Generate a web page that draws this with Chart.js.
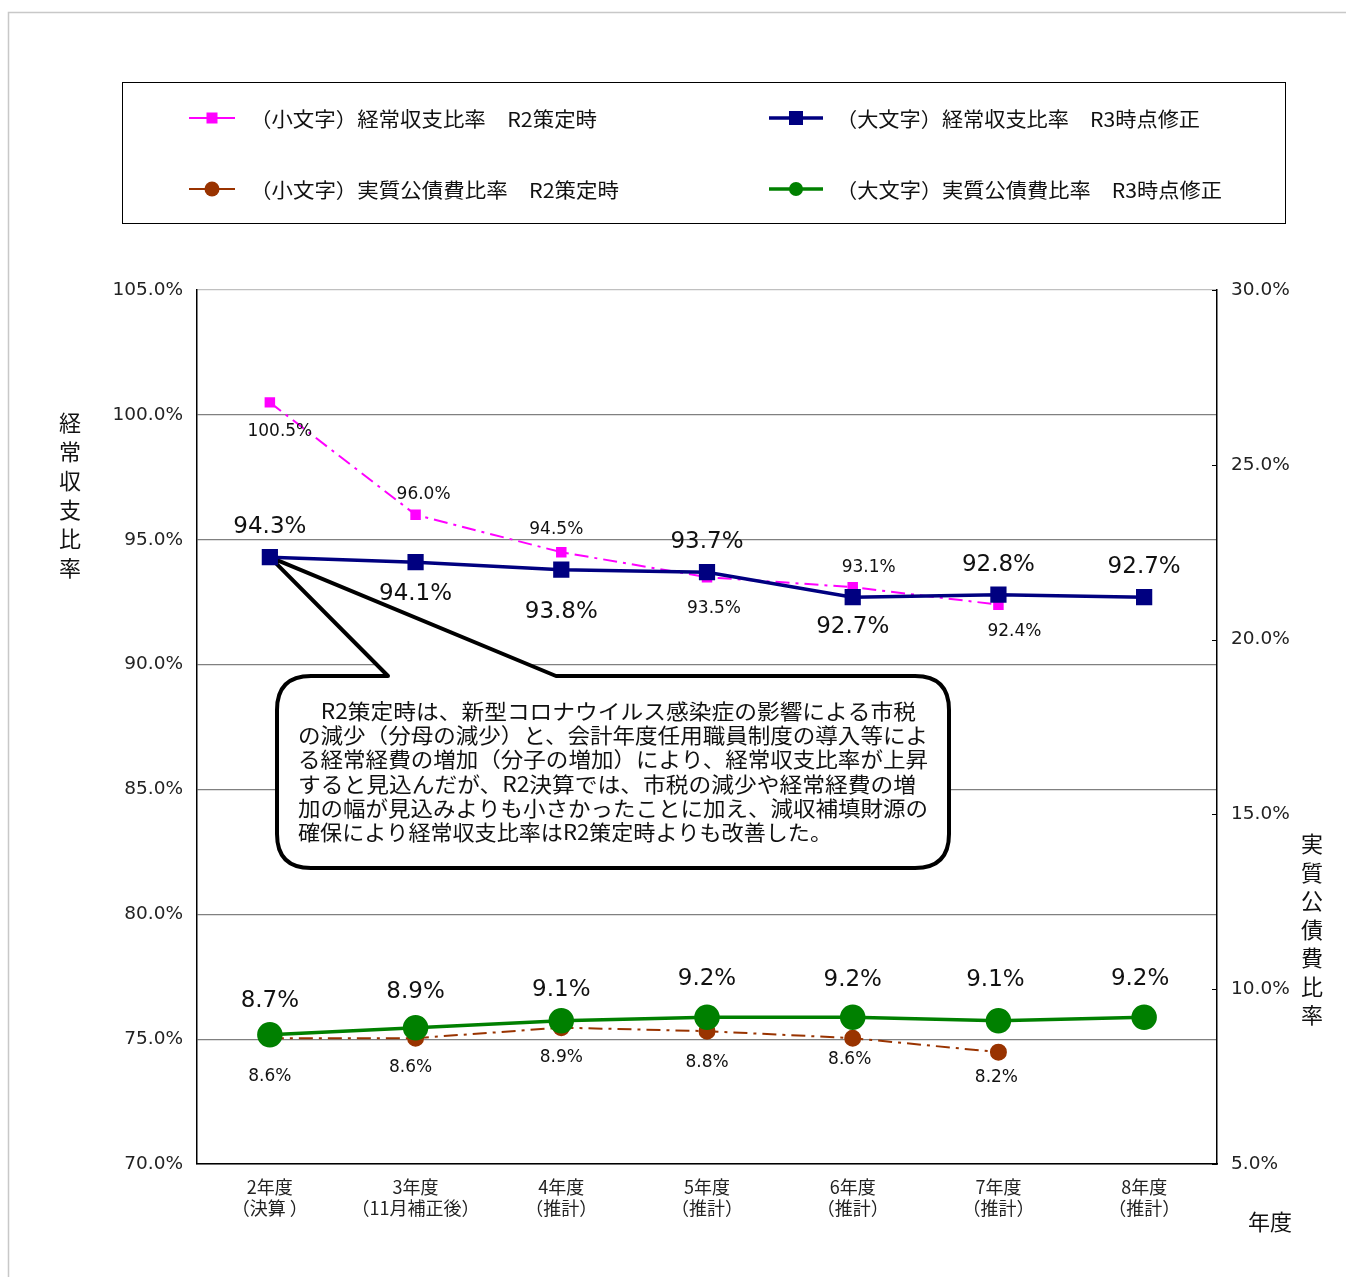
<!DOCTYPE html>
<html lang="ja">
<head>
<meta charset="utf-8">
<title>経常収支比率・実質公債費比率の推移</title>
<script src="https://cdn.jsdelivr.net/npm/chart.js@4/dist/chart.umd.min.js"></script>
<style>
  html, body { margin: 0; padding: 0; background: #fff; }
  canvas { display: block; }
</style>
</head>
<body>
<canvas id="c" width="1346" height="1277"></canvas>
<script>
// 年度区分
const categories = [
  ['2年度', '（決算 ）'],
  ['3年度', '（11月補正後）'],
  ['4年度', '（推計）'],
  ['5年度', '（推計）'],
  ['6年度', '（推計）'],
  ['7年度', '（推計）'],
  ['8年度', '（推計）']
];

// 経常収支比率（%）
const keijoR2 = [100.5, 96.0, 94.5, 93.5, 93.1, 92.4, null];
const keijoR3 = [94.3, 94.1, 93.8, 93.7, 92.7, 92.8, 92.7];

// 実質公債費比率（%）
const kosaiR2 = [8.6, 8.6, 8.9, 8.8, 8.6, 8.2, null];
const kosaiR3 = [8.7, 8.9, 9.1, 9.2, 9.2, 9.1, 9.2];

// 系列名
const seriesNames = [
  '（小文字）経常収支比率　R2策定時',
  '（大文字）経常収支比率　R3時点修正',
  '（小文字）実質公債費比率　R2策定時',
  '（大文字）実質公債費比率　R3時点修正'
];

// 軸ラベル
const leftTicks = [70, 75, 80, 85, 90, 95, 100, 105];
const rightTicks = [5, 10, 15, 20, 25, 30];
const leftTitle = '経常収支比率';
const rightTitle = '実質公債費比率';
const xTitle = '年度';

// 吹き出しの文章
const noteLines = [
  '　R2策定時は、新型コロナウイルス感染症の影響による市税',
  'の減少（分母の減少）と、会計年度任用職員制度の導入等によ',
  'る経常経費の増加（分子の増加）により、経常収支比率が上昇',
  'すると見込んだが、R2決算では、市税の減少や経常経費の増',
  '加の幅が見込みよりも小さかったことに加え、減収補填財源の',
  '確保により経常収支比率はR2策定時よりも改善した。'
];

const FONT = '"Noto Sans CJK JP", "Noto Sans", sans-serif';
const NUMFONT = '"DejaVu Sans", "Noto Sans CJK JP", sans-serif';

// 値ラベルの配置（点からのずれ, px）
const labelOffsets = {
  keijoR2: [[10, 29], [8, -20], [-5, -23], [7, 31], [16, -20], [16, 27]],
  keijoR3: [[0, -30], [0, 32], [0, 42], [0, -30], [0, 30], [0, -30], [0, -30]],
  kosaiR2: [[0, 38], [-5, 29], [0, 30], [0, 31], [-3, 21], [-2, 25]],
  kosaiR3: [[0, -34], [0, -36], [0, -31], [0, -38], [0, -37], [-3, -41], [-4, -38]]
};

const fmt = v => v.toFixed(1) + '%';

// 指定幅に合わせて横方向に伸縮して描く
function fitText(ctx, text, x, y, width) {
  const w = ctx.measureText(text).width;
  ctx.save();
  ctx.translate(x, y);
  ctx.scale(width / w, 1);
  ctx.fillText(text, 0, 0);
  ctx.restore();
}

// 外枠・凡例・吹き出し・値ラベルの描画
const decorations = {
  id: 'decorations',
  beforeDraw(chart) {
    const ctx = chart.ctx;
    ctx.save();
    ctx.fillStyle = '#fff';
    ctx.fillRect(0, 0, chart.width, chart.height);
    // 外枠
    ctx.strokeStyle = '#c8c8c8';
    ctx.lineWidth = 1.5;
    ctx.beginPath();
    ctx.moveTo(8.5, chart.height);
    ctx.lineTo(8.5, 12.5);
    ctx.lineTo(chart.width, 12.5);
    ctx.stroke();

    // 凡例枠
    ctx.strokeStyle = '#000';
    ctx.lineWidth = 1;
    ctx.strokeRect(122.5, 82.5, 1163, 141);

    const entries = [
      { x: 189, w: 46, y: 118, ds: 0, tx: 250, tw: 347 },
      { x: 769, w: 54, y: 118, ds: 1, tx: 836, tw: 364 },
      { x: 189, w: 46, y: 189, ds: 2, tx: 250, tw: 369 },
      { x: 769, w: 54, y: 189, ds: 3, tx: 836, tw: 386 }
    ];
    entries.forEach(e => {
      const d = chart.data.datasets[e.ds];
      ctx.strokeStyle = d.borderColor;
      ctx.lineWidth = d.borderWidth;
      ctx.beginPath();
      ctx.moveTo(e.x, e.y);
      ctx.lineTo(e.x + e.w, e.y);
      ctx.stroke();
      const cx = e.x + e.w / 2;
      const r = d.legendMarker;
      ctx.fillStyle = d.borderColor;
      if (d.pointStyle === 'rect') {
        ctx.fillRect(cx - r, e.y - r, r * 2, r * 2);
      } else {
        ctx.beginPath();
        ctx.arc(cx, e.y, r, 0, Math.PI * 2);
        ctx.fill();
      }
      ctx.fillStyle = '#111';
      ctx.font = '20px ' + FONT;
      ctx.textBaseline = 'middle';
      ctx.textAlign = 'left';
      fitText(ctx, d.label, e.tx, e.y + 1, e.tw);
    });

    // 軸タイトル（縦書き）
    ctx.font = '22px ' + FONT;
    ctx.textAlign = 'center';
    ctx.textBaseline = 'middle';
    [...leftTitle].forEach((ch, i) => ctx.fillText(ch, 70, 423 + i * 29));
    [...rightTitle].forEach((ch, i) => ctx.fillText(ch, 1312, 844 + i * 28.5));
    ctx.fillText(xTitle, 1270, 1222);
    ctx.restore();
  },
  beforeDatasetsDraw(chart) {
    const ctx = chart.ctx;
    const xs = chart.scales.x;
    const ys = chart.scales.y;
    const y1 = chart.scales.y1;
    ctx.save();

    // 右軸の目盛り線
    ctx.strokeStyle = '#000';
    ctx.lineWidth = 1;
    rightTicks.forEach(v => {
      const py = Math.round(y1.getPixelForValue(v)) + 0.5;
      ctx.beginPath();
      ctx.moveTo(chart.chartArea.right - 5, py);
      ctx.lineTo(chart.chartArea.right, py);
      ctx.stroke();
    });

    // 吹き出し
    const tipX = xs.getPixelForValue(0);
    const tipY = ys.getPixelForValue(keijoR3[0]);
    const L = 277, T = 676, R = 949, B = 868, rad = 34;
    const n1 = 388, n2 = 556;
    ctx.beginPath();
    ctx.moveTo(L + rad, T);
    ctx.lineTo(n1, T);
    ctx.lineTo(tipX, tipY);
    ctx.lineTo(n2, T);
    ctx.lineTo(R - rad, T);
    ctx.quadraticCurveTo(R, T, R, T + rad);
    ctx.lineTo(R, B - rad);
    ctx.quadraticCurveTo(R, B, R - rad, B);
    ctx.lineTo(L + rad, B);
    ctx.quadraticCurveTo(L, B, L, B - rad);
    ctx.lineTo(L, T + rad);
    ctx.quadraticCurveTo(L, T, L + rad, T);
    ctx.closePath();
    ctx.fillStyle = '#fff';
    ctx.fill();
    ctx.strokeStyle = '#000';
    ctx.lineWidth = 4;
    ctx.lineJoin = 'round';
    ctx.stroke();

    ctx.fillStyle = '#111';
    ctx.font = '21px ' + FONT;
    ctx.textAlign = 'left';
    ctx.textBaseline = 'middle';
    const widths = [618, 630, 630, 618, 630, 534];
    noteLines.forEach((line, i) => {
      fitText(ctx, line, 298, 711 + i * 24.2, widths[i]);
    });
    ctx.restore();
  },
  afterDatasetsDraw(chart) {
    const ctx = chart.ctx;
    ctx.save();
    ctx.fillStyle = '#111';
    ctx.textAlign = 'center';
    ctx.textBaseline = 'middle';
    chart.data.datasets.forEach((d, di) => {
      const meta = chart.getDatasetMeta(di);
      const offs = labelOffsets[d.key];
      ctx.font = (d.bigLabel ? '23px ' : '17px ') + NUMFONT;
      d.data.forEach((v, i) => {
        if (v === null) return;
        const el = meta.data[i];
        ctx.fillText(fmt(v), el.x + offs[i][0], el.y + offs[i][1]);
      });
    });
    ctx.restore();
  }
};

const chart = new Chart(document.getElementById('c'), {
  type: 'line',
  data: {
    labels: categories,
    datasets: [
      {
        key: 'keijoR2', label: seriesNames[0], data: keijoR2, yAxisID: 'y',
        borderColor: '#ff00ff', backgroundColor: '#ff00ff', borderWidth: 2,
        borderDash: [14, 6, 3, 6], pointStyle: 'rect', pointRadius: 6,
        legendMarker: 5.5, order: 3, bigLabel: false
      },
      {
        key: 'keijoR3', label: seriesNames[1], data: keijoR3, yAxisID: 'y',
        borderColor: '#000080', backgroundColor: '#000080', borderWidth: 3.5,
        pointStyle: 'rect', pointRadius: 9, legendMarker: 7, order: 1, bigLabel: true
      },
      {
        key: 'kosaiR2', label: seriesNames[2], data: kosaiR2, yAxisID: 'y1',
        borderColor: '#993300', backgroundColor: '#993300', borderWidth: 2,
        borderDash: [14, 6, 3, 6], pointStyle: 'circle', pointRadius: 7.5,
        legendMarker: 7.5, order: 2, bigLabel: false
      },
      {
        key: 'kosaiR3', label: seriesNames[3], data: kosaiR3, yAxisID: 'y1',
        borderColor: '#008000', backgroundColor: '#008000', borderWidth: 3.5,
        pointStyle: 'circle', pointRadius: 11, legendMarker: 7, order: 0, bigLabel: true
      }
    ]
  },
  options: {
    responsive: false,
    animation: false,
    events: [],
    layout: { padding: { top: 290, left: 0, right: 0, bottom: 0 } },
    plugins: { legend: { display: false }, tooltip: { enabled: false } },
    elements: {
      line: { tension: 0, fill: false },
      point: { borderWidth: 0, hitRadius: 0 }
    },
    scales: {
      x: {
        type: 'category',
        offset: true,
        grid: { display: false, drawTicks: false },
        border: { color: '#000', width: 1.5 },
        ticks: {
          color: '#222',
          font: { family: FONT, size: 18 },
          padding: 12,
          maxRotation: 0,
          autoSkip: false
        },
        afterFit(s) { s.height = 113; }
      },
      y: {
        position: 'left',
        min: 70, max: 105,
        afterBuildTicks(s) { s.ticks = leftTicks.map(v => ({ value: v })); },
        grid: {
          color: ctx => ctx.tick && ctx.tick.value === 105 ? '#c0c0c0' : '#808080',
          lineWidth: 1.2,
          drawTicks: false
        },
        border: { color: '#000', width: 1.5 },
        ticks: {
          color: '#222',
          font: { family: NUMFONT, size: 18.5 },
          padding: 14,
          callback: v => v.toFixed(1) + '%'
        },
        afterFit(s) { s.width = 197; }
      },
      y1: {
        position: 'right',
        min: 5, max: 30,
        afterBuildTicks(s) { s.ticks = rightTicks.map(v => ({ value: v })); },
        grid: { drawOnChartArea: false, drawTicks: false },
        border: { color: '#000', width: 1.5 },
        ticks: {
          color: '#222',
          font: { family: NUMFONT, size: 18.5 },
          padding: 14,
          callback: v => v.toFixed(1) + '%'
        },
        afterFit(s) { s.width = 129; }
      }
    }
  },
  plugins: [decorations]
});
</script>
</body>
</html>
